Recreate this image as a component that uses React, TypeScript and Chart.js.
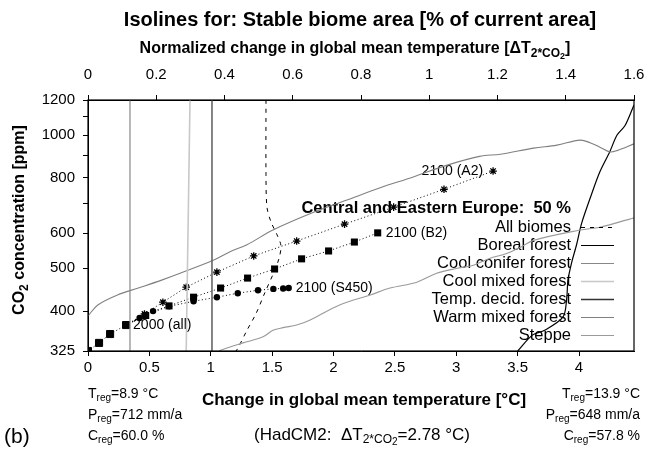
import React, { useEffect, useRef } from 'react';
import { Chart, registerables } from 'chart.js';
Chart.register(...registerables);

const FONT = '"Liberation Sans", Arial, Helvetica, sans-serif';

// ---- axes ----
const xTicks = [0, 0.5, 1, 1.5, 2, 2.5, 3, 3.5, 4];
const xMax = 4.448; // 1.6 * 2.78
const topTicks = [0, 0.2, 0.4, 0.6, 0.8, 1, 1.2, 1.4, 1.6];
const topMax = 1.6;
const yTicks = [325, 400, 500, 600, 700, 800, 900, 1000, 1100, 1200];
const yLabels = [325, 400, 500, 600, 800, 1000, 1200];

// ---- emission trajectories (dT in degC, CO2 in ppm) ----
const histT = [0, 0.09, 0.18, 0.31];
const histC = [325, 339, 355, 372];
const a2T = [0.46, 0.61, 0.8, 1.05, 1.35, 1.7, 2.09, 2.49, 2.9, 3.3];
const a2C = [394, 419, 453, 490, 533, 576, 629, 687, 754, 829];
const b2T = [0.47, 0.66, 0.86, 1.08, 1.3, 1.52, 1.74, 1.96, 2.17, 2.36];
const b2C = [391, 411, 430, 451, 475, 498, 525, 547, 573, 601];
const s450T = [0.42, 0.53, 0.66, 0.86, 1.05, 1.22, 1.385, 1.51, 1.59, 1.635];
const s450C = [386, 400, 410, 421, 430, 439, 446, 449, 450, 451];

// ---- 50 % isolines ----
const allT = [1.45, 1.45, 1.458, 1.49, 1.54, 1.572, 1.556, 1.515, 1.442, 1.369, 1.295, 1.222, 1.206];
const allC = [1200, 814, 687, 637, 595, 562, 526, 490, 441, 395, 362, 330, 325];
const borealT = [3.5, 3.62, 3.72, 3.87, 3.9, 3.91, 3.94, 3.98, 4.02, 4.1, 4.17, 4.25, 4.31, 4.375, 4.448];
const borealC = [325, 353, 362, 388, 428, 470, 515, 565, 630, 732, 826, 916, 1000, 1051, 1170];
const coniferT = [0.342, 0.342];
const coniferC = [325, 1200];
const mixedT = [0.8, 0.831];
const mixedC = [325, 1200];
const decidT = [1.01, 1.01];
const decidC = [325, 1200];
const warmT = [0, 0.08, 0.24, 0.41, 0.6, 0.75, 1.02, 1.157, 1.295, 1.507, 1.833, 2.11, 2.38, 2.65, 2.92, 3.19, 3.36, 3.63, 3.82, 4.01, 4.09, 4.17, 4.25, 4.31, 4.448];
const warmC = [390, 413, 435, 451, 470, 487, 521, 545, 565, 610, 668, 713, 760, 804, 854, 895, 905, 934, 949, 974, 961, 939, 916, 922, 955];
const steppeT = [1.067, 1.157, 1.263, 1.426, 1.507, 1.589, 1.7, 1.81, 2.05, 2.3, 2.46, 2.68, 2.84, 3.01, 3.14, 3.27, 3.41, 3.52, 3.63, 4.01, 4.17, 4.448];
const steppeC = [325, 332, 339, 350, 362, 367, 372, 382, 413, 435, 451, 465, 487, 500, 508, 526, 540, 557, 578, 610, 619, 650];

const legendTitle = 'Central and Eastern Europe:  50 %';
const legendNames = ['All biomes', 'Boreal forest', 'Cool conifer forest', 'Cool mixed forest', 'Temp. decid. forest', 'Warm mixed forest', 'Steppe'];
const legendColors = ['#000000', '#000000', '#888888', '#c8c8c8', '#333333', '#808080', '#9a9a9a'];
const legendWidths = [1, 1.2, 1.2, 1.6, 1.6, 1.1, 1.1];

const pts = (t: number[], c: number[]) => t.map((v, i) => ({ x: v, y: c[i] }));

type Part = { t: string; lvl?: number };
function drawRich(ctx: CanvasRenderingContext2D, parts: Part[], x: number, y: number, align: string, size: number, bold: boolean) {
  const fontFor = (l: number) => `${bold ? 'bold ' : ''}${l === 0 ? size : l === 1 ? Math.round(size * 0.72) : Math.round(size * 0.58)}px ${FONT}`;
  const offFor = (l: number) => (l === 0 ? 0 : l === 1 ? size * 0.3 : size * 0.45);
  let total = 0;
  const widths: number[] = [];
  parts.forEach((p) => {
    ctx.font = fontFor(p.lvl || 0);
    const w = ctx.measureText(p.t).width;
    widths.push(w);
    total += w;
  });
  let cx = align === 'center' ? x - total / 2 : align === 'right' ? x - total : x;
  ctx.textAlign = 'left';
  ctx.textBaseline = 'middle';
  parts.forEach((p, i) => {
    ctx.font = fontFor(p.lvl || 0);
    ctx.fillText(p.t, cx, y + offFor(p.lvl || 0));
    cx += widths[i];
  });
}

const textPlugin = {
  id: 'texts',
  beforeDatasetsDraw(chart: any) {
    const ctx = chart.ctx as CanvasRenderingContext2D;
    const xs = chart.scales.x;
    const ys = chart.scales.y;
    ctx.save();
    ctx.fillStyle = '#000';
    // legend texts
    ctx.textAlign = 'right';
    ctx.textBaseline = 'middle';
    ctx.font = `bold 16.5px ${FONT}`;
    ctx.fillText(legendTitle, 571, 208);
    ctx.font = `16.5px ${FONT}`;
    legendNames.forEach((n, i) => ctx.fillText(n, 571, 227 + i * 18));
    // trajectory labels
    ctx.font = `14px ${FONT}`;
    const px = (t: number) => xs.getPixelForValue(t);
    const py = (c: number) => ys.getPixelForValue(c);
    ctx.textAlign = 'left';
    ctx.fillText('2000 (all)', px(histT[histT.length - 1]) + 7, py(histC[histC.length - 1]));
    ctx.fillText('2100 (B2)', px(b2T[b2T.length - 1]) + 8, py(b2C[b2C.length - 1]));
    ctx.fillText('2100 (S450)', px(s450T[s450T.length - 1]) + 7, py(s450C[s450C.length - 1]));
    ctx.textAlign = 'right';
    ctx.fillText('2100 (A2)', px(a2T[a2T.length - 1]) - 10, py(a2C[a2C.length - 1]));
    ctx.restore();
  },
  afterDatasetsDraw(chart: any) {
    const ctx = chart.ctx as CanvasRenderingContext2D;
    const a = chart.chartArea;
    ctx.save();
    // legend samples
    legendNames.forEach((_, i) => {
      ctx.beginPath();
      ctx.strokeStyle = legendColors[i];
      ctx.lineWidth = legendWidths[i];
      ctx.setLineDash(i === 0 ? [4, 5] : []);
      const y = 227 + i * 18 + 0.5;
      ctx.moveTo(581, y);
      ctx.lineTo(614, y);
      ctx.stroke();
    });
    ctx.setLineDash([]);
    ctx.strokeStyle = '#000';
    ctx.lineWidth = 1.2;
    ctx.strokeRect(a.left, a.top, a.right - a.left, a.bottom - a.top);
    ctx.restore();
  },
  afterDraw(chart: any) {
    const ctx = chart.ctx as CanvasRenderingContext2D;
    ctx.save();
    ctx.fillStyle = '#000';
    drawRich(ctx, [{ t: 'Isolines for: Stable biome area [% of current area]' }], 360, 20, 'center', 20, true);
    drawRich(ctx, [
      { t: 'Normalized change in global mean temperature [ΔT' },
      { t: '2*CO', lvl: 1 },
      { t: '2', lvl: 2 },
      { t: ']' },
    ], 355, 49, 'center', 16, true);
    drawRich(ctx, [{ t: 'Change in global mean temperature [°C]' }], 364, 400, 'center', 17, true);
    drawRich(ctx, [
      { t: '(HadCM2:  ΔT' },
      { t: '2*CO', lvl: 1 },
      { t: '2', lvl: 2 },
      { t: '=2.78 °C)' },
    ], 362, 435, 'center', 17, false);
    drawRich(ctx, [{ t: '(b)' }], 4, 437, 'left', 21, false);
    const leftRows: Part[][] = [
      [{ t: 'T' }, { t: 'reg', lvl: 1 }, { t: '=8.9 °C' }],
      [{ t: 'P' }, { t: 'reg', lvl: 1 }, { t: '=712 mm/a' }],
      [{ t: 'C' }, { t: 'reg', lvl: 1 }, { t: '=60.0 %' }],
    ];
    const rightRows: Part[][] = [
      [{ t: 'T' }, { t: 'reg', lvl: 1 }, { t: '=13.9 °C' }],
      [{ t: 'P' }, { t: 'reg', lvl: 1 }, { t: '=648 mm/a' }],
      [{ t: 'C' }, { t: 'reg', lvl: 1 }, { t: '=57.8 %' }],
    ];
    const rowY = [394, 415, 436];
    leftRows.forEach((r, i) => drawRich(ctx, r, 88, rowY[i], 'left', 14, false));
    rightRows.forEach((r, i) => drawRich(ctx, r, 640, rowY[i], 'right', 14, false));
    ctx.translate(20, 220);
    ctx.rotate(-Math.PI / 2);
    drawRich(ctx, [{ t: 'CO' }, { t: '2', lvl: 1 }, { t: ' concentration [ppm]' }], 0, 0, 'center', 16, true);
    ctx.restore();
  },
};

export default function App() {
  const ref = useRef<HTMLCanvasElement | null>(null);
  useEffect(() => {
    if (!ref.current) return;
    const iso = (label: string, t: number[], c: number[], color: string, width: number, dash: number[] = [], tension = 0.35) => ({
      label,
      data: pts(t, c),
      borderColor: color,
      borderWidth: width,
      borderDash: dash,
      pointRadius: 0,
      tension,
      fill: false,
    });
    const last = { x: histT[histT.length - 1], y: histC[histC.length - 1] };
    const traj = (label: string, t: number[], c: number[], style: string, r: number, bw: number) => ({
      label,
      data: [last, ...pts(t, c)],
      borderColor: '#000',
      borderWidth: 1,
      borderDash: [1, 2.5],
      backgroundColor: '#000',
      pointBackgroundColor: '#000',
      pointBorderColor: '#000',
      pointBorderWidth: bw,
      pointStyle: style,
      pointRadius: (cx: any) => (cx.dataIndex === 0 ? 0 : r),
      tension: 0,
      fill: false,
    });
    const hFit = (h: number) => (s: any) => {
      s.height = h;
      s.paddingLeft = 0;
      s.paddingRight = 0;
    };
    const chart = new Chart(ref.current, {
      type: 'line',
      data: {
        datasets: [
          iso('Cool conifer forest', coniferT, coniferC, legendColors[2], 1.2, [], 0),
          iso('Cool mixed forest', mixedT, mixedC, legendColors[3], 1.6, [], 0),
          iso('Temp. decid. forest', decidT, decidC, '#666666', 1.6, [], 0),
          iso('Warm mixed forest', warmT, warmC, legendColors[5], 1.1),
          iso('Steppe', steppeT, steppeC, legendColors[6], 1.1),
          iso('All biomes', allT, allC, '#000', 1, [4, 5], 0.3),
          iso('Boreal forest', borealT, borealC, '#000', 1.2, [], 0.3),
          {
            label: 'Historical',
            data: pts(histT, histC),
            borderColor: '#000',
            borderWidth: 1,
            borderDash: [1, 2.5],
            pointBackgroundColor: '#000',
            pointBorderColor: '#000',
            pointStyle: 'rect',
            pointRadius: 5,
            tension: 0,
          },
          traj('S450', s450T, s450C, 'circle', 3.2, 0),
          traj('B2', b2T, b2C, 'rect', 5, 0),
          traj('A2', a2T, a2C, 'star', 3.8, 1.3),
        ] as any,
      },
      options: {
        responsive: false,
        animation: false,
        layout: { padding: { left: 0, right: 11, top: 0, bottom: 0 } },
        plugins: { legend: { display: false }, tooltip: { enabled: false }, title: { display: false } },
        scales: {
          x: {
            type: 'linear',
            position: 'bottom',
            min: 0,
            max: xMax,
            afterBuildTicks: (s: any) => { s.ticks = xTicks.map((v) => ({ value: v })); },
            afterFit: hFit(99),
            grid: { drawOnChartArea: false, drawTicks: true, tickLength: 5, color: '#000', lineWidth: 1 },
            border: { display: true, color: '#000' },
            ticks: { color: '#000', font: { family: FONT, size: 15 }, padding: 3, maxRotation: 0, autoSkip: false, callback: (v: any) => String(v) },
          },
          x2: {
            type: 'linear',
            position: 'top',
            min: 0,
            max: topMax,
            afterBuildTicks: (s: any) => { s.ticks = topTicks.map((v) => ({ value: v })); },
            afterFit: hFit(100),
            grid: { drawOnChartArea: false, drawTicks: true, tickLength: 5, color: '#000', lineWidth: 1 },
            border: { display: true, color: '#000' },
            ticks: { color: '#000', font: { family: FONT, size: 15 }, padding: 11, maxRotation: 0, autoSkip: false, callback: (v: any) => String(Math.round(v * 10) / 10) },
          },
          y: {
            type: 'logarithmic',
            position: 'left',
            min: 325,
            max: 1200,
            afterBuildTicks: (s: any) => { s.ticks = yTicks.map((v) => ({ value: v })); },
            afterFit: (s: any) => {
              s.width = 88;
              s.paddingTop = 0;
              s.paddingBottom = 0;
            },
            grid: { drawOnChartArea: false, drawTicks: true, tickLength: 5, color: '#000', lineWidth: 1 },
            border: { display: true, color: '#000' },
            ticks: { color: '#000', font: { family: FONT, size: 15 }, padding: 8, autoSkip: false, callback: (v: any) => (yLabels.includes(v) ? String(v) : '') },
          },
        },
      } as any,
      plugins: [textPlugin],
    });
    return () => chart.destroy();
  }, []);
  return (
    <div style={{ position: 'absolute', left: 0, top: 0, width: 645, height: 450, background: '#fff' }}>
      <canvas ref={ref} width={645} height={450} />
    </div>
  );
}
